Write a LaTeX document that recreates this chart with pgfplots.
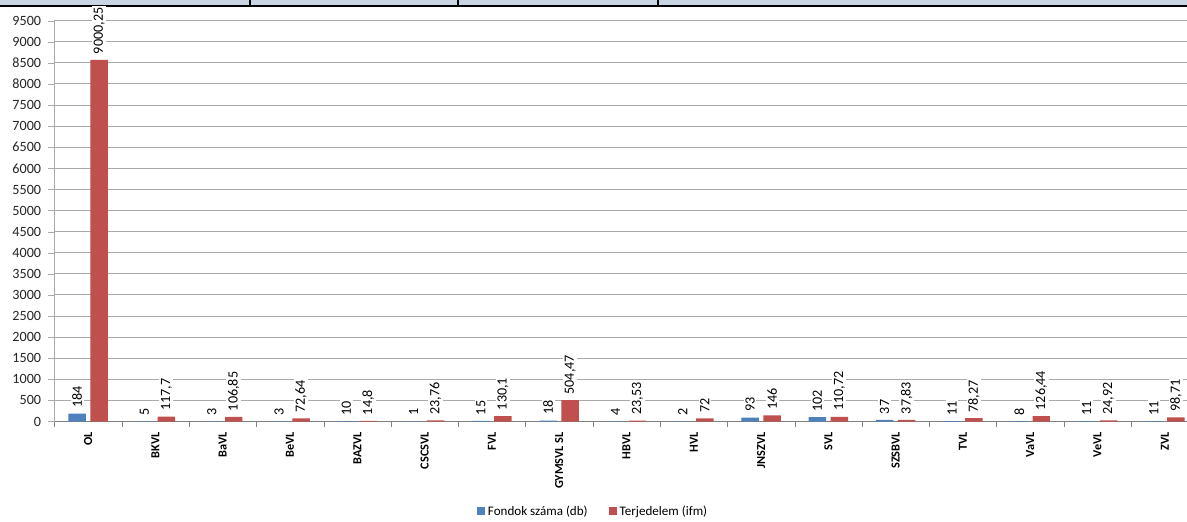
\documentclass[border=0pt]{standalone}
\usepackage{pgfplots}
\pgfplotsset{compat=1.18}
\usepackage{pgfplotstable}
\usepackage{fontspec}
\setmainfont{Carlito}

\definecolor{fondblue}{RGB}{79,129,189}
\definecolor{terjred}{RGB}{192,80,77}
\definecolor{gridgray}{RGB}{170,170,170}
\definecolor{bandblue}{RGB}{201,213,226}

% x = category index, label columns hold the printed data labels
\pgfplotstableread{
x  fond fondl terj   terjl
0  184  184   8570   9000,25
1  5    5     117.7  117,7
2  3    3     106.85 106,85
3  3    3     72.64  72,64
4  10   10    14.8   14,8
5  1    1     23.76  23,76
6  15   15    130.1  130,1
7  18   18    504.47 504,47
8  4    4     23.53  23,53
9  2    2     72     72
10 93   93    146    146
11 102  102   110.72 110,72
12 37   37    37.83  37,83
13 11   11    78.27  78,27
14 8    8     126.44 126,44
15 11   11    24.92  24,92
16 11   11    98.71  98,71
}\data

\begin{document}
\begin{tikzpicture}
\useasboundingbox (0,0) rectangle (890.25pt,390.75pt);
\fill[white] (0,0) rectangle (890.25pt,390.75pt);
% strip of the table above the chart
\fill[bandblue] (0,387pt) rectangle (890.25pt,390.75pt);
\draw[black, line width=1.5pt] (0,386.25pt) -- (890.25pt,386.25pt);
\foreach \xx in {187.5pt,343.5pt,493.5pt}
  \draw[black, line width=1.2pt] (\xx,386.25pt) -- (\xx,390.75pt);

\begin{axis}[
  at={(40.875pt,74.625pt)}, anchor=south west,
  scale only axis, width=849.4pt, height=300.6pt,
  ybar=3.4pt, bar width=13.1pt,
  xmin=-0.5, xmax=16.33, ymin=0, ymax=9500,
  axis x line*=bottom, axis y line*=left,
  axis line style={-},
  x axis line style={draw=gray},
  y axis line style={draw=gridgray},
  ymajorgrids, grid style={draw=gridgray, line width=0.75pt},
  tick align=outside,
  major tick length=4.5pt, minor tick length=3.75pt,
  ytick={0,500,...,9500},
  ytick style={draw=gridgray},
  yticklabel style={font=\fontsize{10.6}{12}\selectfont, text=black!85, xshift=-2pt},
  /pgf/number format/assume math mode=true,
  /pgf/number format/1000 sep={},
  xtick={0,...,16},
  xticklabels={OL,BKVL,BaVL,BeVL,BAZVL,CSCSVL,FVL,GYMSVL SL,HBVL,HVL,JNSZVL,SVL,SZSBVL,TVL,VaVL,VeVL,ZVL},
  xticklabel style={rotate=90, anchor=east, font=\bfseries\fontsize{9.2}{10}\selectfont},
  major x tick style={draw=none},
  minor xtick={-0.5,0.5,...,15.5},
  minor x tick style={draw=gray},
  nodes near coords,
  point meta=explicit symbolic,
  nodes near coords style={font=\fontsize{10.6}{12}\selectfont, text=black,
    yshift=3pt, rotate=90, anchor=west, fill=white, inner sep=1.2pt},
  legend style={at={(0.476,-0.224)}, anchor=center, legend columns=2, draw=none,
    fill=none, font=\fontsize{9.8}{11}\selectfont, inner sep=1pt,
    /tikz/every even column/.append style={column sep=14pt}},
  legend image code/.code={\fill[#1] (0pt,-3pt) rectangle (6pt,3pt);},
]
\addplot[fill=fondblue, draw=none] table[x=x, y=fond, meta=fondl] {\data};
\addplot[fill=terjred, draw=none] table[x=x, y=terj, meta=terjl] {\data};
\legend{Fondok száma (db), Terjedelem (ifm)}
\end{axis}
\end{tikzpicture}
\end{document}
